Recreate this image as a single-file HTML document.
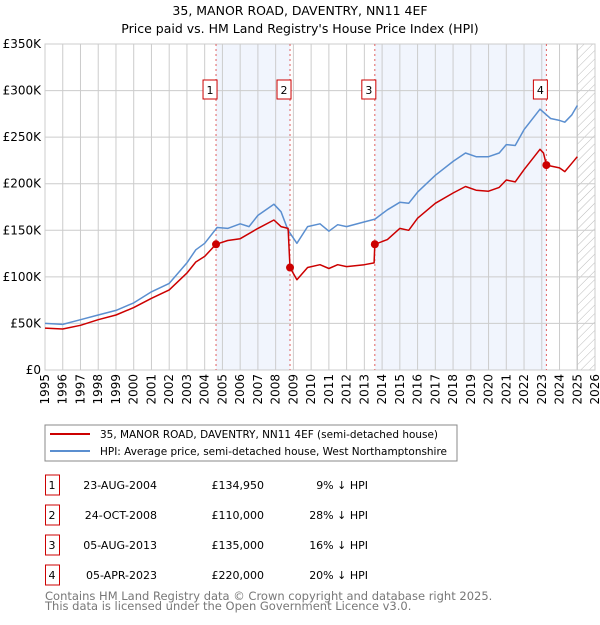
<!DOCTYPE html>
<html><head><meta charset="utf-8"><style>
body{margin:0;background:#fff;font-family:"Liberation Sans","DejaVu Sans",sans-serif;}
svg text{font-family:"DejaVu Sans","Liberation Sans",sans-serif;}
</style></head><body>
<svg id="c" width="600" height="620" xmlns="http://www.w3.org/2000/svg">
<defs><pattern id="hatch" width="6" height="6" patternUnits="userSpaceOnUse" patternTransform="rotate(45)"><line x1="0" y1="0" x2="0" y2="6" stroke="#bbb" stroke-width="1"/></pattern></defs>
<text x="300" y="15" text-anchor="middle" font-size="12.5" fill="#000">35, MANOR ROAD, DAVENTRY, NN11 4EF</text>
<text x="300" y="33" text-anchor="middle" font-size="12.5" fill="#000">Price paid vs. HM Land Registry's House Price Index (HPI)</text>
<g id="plot"></g>
<rect x="45" y="425" width="412" height="36" fill="#fff" stroke="#888"/>
<line x1="50" y1="434" x2="90" y2="434" stroke="#cc0000" stroke-width="2"/>
<text x="100" y="438" font-size="10.5" textLength="338" lengthAdjust="spacingAndGlyphs">35, MANOR ROAD, DAVENTRY, NN11 4EF (semi-detached house)</text>
<line x1="50" y1="451" x2="90" y2="451" stroke="#5b8fd0" stroke-width="2"/>
<text x="100" y="455" font-size="10.5" textLength="347" lengthAdjust="spacingAndGlyphs">HPI: Average price, semi-detached house, West Northamptonshire</text>
<g id="table" font-size="11"></g>
<text x="45" y="600" font-size="11.5" fill="#777">Contains HM Land Registry data © Crown copyright and database right 2025.</text>
<text x="45" y="610" font-size="11.5" fill="#777">This data is licensed under the Open Government Licence v3.0.</text>
</svg>
<script>
const hpiYears=[1995,1996,1997,1998,1999,2000,2001,2002,2003,2003.5,2004,2004.7,2005.3,2006,2006.5,2007,2007.9,2008.3,2008.7,2009.2,2009.8,2010.5,2011,2011.5,2012,2013,2013.6,2014.3,2015,2015.5,2016,2017,2018,2018.7,2019.3,2020,2020.6,2021,2021.5,2022,2022.9,2023.5,2024,2024.3,2024.7,2025];
const hpiValues=[50,49,54,59,64,72,84,93,115,129,136,153,152,157,154,166,178,170,150,136,154,157,149,156,154,159,162,172,180,179,191,209,224,233,229,229,233,242,241,258,280,270,268,266,274,284];
const priceYears=[1995,1996,1997,1998,1999,2000,2001,2002,2003,2003.5,2004,2004.64,2005.3,2006,2007,2007.9,2008.3,2008.7,2008.81,2009.2,2009.8,2010.5,2011,2011.5,2012,2013,2013.55,2013.59,2014.3,2015,2015.5,2016,2017,2018,2018.7,2019.3,2020,2020.6,2021,2021.5,2022,2022.9,2023.1,2023.26,2024,2024.3,2024.7,2025];
const priceValues=[45,44,48,54,59,67,77,86,104,116,122,134.95,139,141,152,161,154,152,110,97,110,113,109,113,111,113,115,135,140,152,150,163,179,190,197,193,192,196,204,202,215,237,233,220,217,213,222,229];
const saleYears=[2004.64,2008.81,2013.59,2023.26];
const saleValues=[134.95,110,135,220];
const saleLabels=["1","2","3","4"];
const saleDates=["23-AUG-2004","24-OCT-2008","05-AUG-2013","05-APR-2023"];
const salePrices=["£134,950","£110,000","£135,000","£220,000"];
const saleDiffs=["9% ↓ HPI","28% ↓ HPI","16% ↓ HPI","20% ↓ HPI"];
const yTicks=[0,50,100,150,200,250,300,350];
const yTickLabels=["£0","£50K","£100K","£150K","£200K","£250K","£300K","£350K"];
const xTicks=[1995,1996,1997,1998,1999,2000,2001,2002,2003,2004,2005,2006,2007,2008,2009,2010,2011,2012,2013,2014,2015,2016,2017,2018,2019,2020,2021,2022,2023,2024,2025,2026];
const X0=45,X1=595,Y0=370,Y1=44;
const xs=y=>X0+(y-1995)/(2026-1995)*(X1-X0);
const ys=v=>Y0-v/350*(Y0-Y1);
const NS="http://www.w3.org/2000/svg";
const plot=document.getElementById('plot');
function mk(tag,attrs,parent){const e=document.createElementNS(NS,tag);for(const k in attrs)e.setAttribute(k,attrs[k]);(parent||plot).appendChild(e);return e;}
[[0,1],[2,3]].forEach((p,i)=>{const r=mk('rect',{x:xs(saleYears[p[0]]),y:Y1,width:xs(saleYears[p[1]])-xs(saleYears[p[0]]),height:Y0-Y1,fill:'#eef3fc',opacity:0.8});

});
const h=mk('rect',{x:xs(2025),y:Y1,width:xs(2026)-xs(2025),height:Y0-Y1,fill:'url(#hatch)'});


mk('line',{x1:xs(2025),y1:Y1,x2:xs(2025),y2:Y0,stroke:'#999','stroke-width':1});
yTicks.forEach((t,i)=>{const l=mk('line',{x1:X0,x2:X1,y1:ys(t),y2:ys(t),stroke:'#cccccc'});


const tx=mk('text',{x:X0-4,y:ys(t)+4,'text-anchor':'end','font-size':12});tx.textContent=yTickLabels[i];

});
xTicks.forEach(t=>{const l=mk('line',{x1:xs(t),x2:xs(t),y1:Y1,y2:Y0,stroke:'#cccccc'});


const tx=mk('text',{x:0,y:0,'text-anchor':'end','font-size':12,transform:`translate(${xs(t)+4},${Y0+4}) rotate(-90)`});tx.textContent=t;

});
const b=mk('rect',{x:X0,y:Y1,width:X1-X0,height:Y0-Y1,fill:'none',stroke:'#cccccc'});


saleYears.forEach((y,i)=>{const l=mk('line',{x1:xs(y),x2:xs(y),y1:Y1,y2:Y0,stroke:'#e06060','stroke-dasharray':'2,3'});


const r=mk('rect',{x:xs(y)-13,y:80,width:14,height:19,fill:'#fff',stroke:'#cc0000'});


const t=mk('text',{x:xs(y)-6,y:94,'text-anchor':'middle','font-size':11});t.textContent=saleLabels[i];

});
function line(xa,va,color,name){const d=xa.map((x,i)=>(i?'L':'M')+xs(x).toFixed(1)+','+ys(va[i]).toFixed(1)).join('');
const p=mk('path',{d:d,fill:'none',stroke:color,'stroke-width':1.5,'stroke-linejoin':'round'});

}
line(hpiYears,hpiValues,'#5b8fd0','hpi-line');
line(priceYears,priceValues,'#cc0000','price-paid-line');
saleYears.forEach((y,i)=>{const c=mk('circle',{cx:xs(y),cy:ys(saleValues[i]),r:4,fill:'#cc0000'});

});
const tb=document.getElementById('table');
saleLabels.forEach((s,i)=>{const y0=475+i*30;
const r=mk('rect',{x:45.5,y:y0,width:14,height:20,fill:'#fff',stroke:'#cc0000'},tb);


const cells=[[52,s,'middle','table-index'],[157,saleDates[i],'end','table-date'],[264,salePrices[i],'end','table-price'],[368,saleDiffs[i],'end','table-hpi-diff']];
cells.forEach(c=>{const t=mk('text',{x:c[0],y:y0+14,'text-anchor':c[2]},tb);t.textContent=c[1];

});});
</script>
</body></html>
